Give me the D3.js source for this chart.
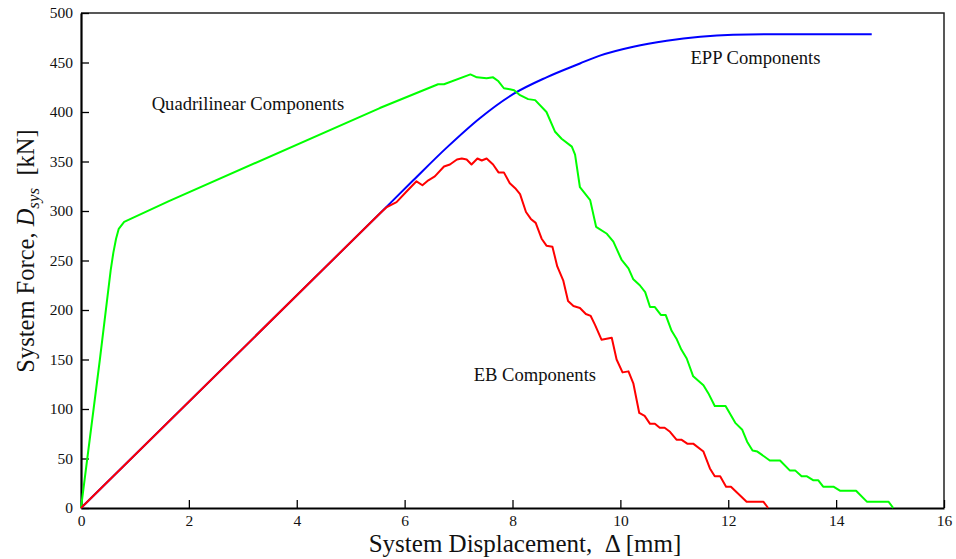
<!DOCTYPE html>
<html><head><meta charset="utf-8">
<script src="https://cdn.jsdelivr.net/npm/d3@7"></script>
<style>
html,body{margin:0;padding:0;background:#fff;}
svg{display:block;font-family:"Liberation Serif","Times New Roman",serif;}
.pre{white-space:pre;}
</style></head>
<body><svg id="c" width="956" height="559"></svg>
<script>
const xTicks = [0,2,4,6,8,10,12,14,16];
const yTicks = [0,50,100,150,200,250,300,350,400,450,500];

const quadX = [0,0.35,0.55,0.6,0.65,0.7,0.8,1.0,1.63,5.54,6.62,6.73,7.22,7.34,7.52,7.64,7.74,7.84,7.95,8.03,8.14,8.29,8.42,8.63,8.79,8.91,9.1,9.16,9.25,9.44,9.55,9.75,9.87,10.02,10.15,10.24,10.36,10.46,10.55,10.64,10.75,10.84,10.95,11.04,11.13,11.23,11.35,11.54,11.63,11.75,11.95,12.13,12.26,12.35,12.45,12.54,12.77,12.96,13.14,13.24,13.36,13.46,13.58,13.67,13.76,13.95,14.07,14.37,14.57,14.97,15.06];
const quadY = [0,150,240,258,272,282,289,294,310,404,428,428,438,435,434,435,431,424,423,422,417,413,412,400,380,373,365,357,324,311,284,277,269,251,242,231,225,218,203,203,195,195,179,171,160,151,133,124,116,103,103,86,79,67,58,57,48,48,38,38,32,32,28,28,21.5,21.5,17.5,17.5,6.4,6.4,0];

const ebX = [0,5.55,5.67,5.85,6.04,6.22,6.33,6.44,6.56,6.73,6.84,6.97,7.06,7.15,7.24,7.35,7.43,7.52,7.64,7.74,7.84,7.95,8.05,8.14,8.25,8.34,8.43,8.54,8.63,8.74,8.83,8.94,9.03,9.13,9.25,9.36,9.45,9.53,9.65,9.84,9.93,10.04,10.15,10.24,10.35,10.45,10.55,10.64,10.73,10.82,10.92,11.04,11.13,11.24,11.35,11.54,11.66,11.75,11.85,11.96,12.05,12.34,12.65,12.74];
const ebY = [0,298,304,309,320,330,326,331,335,345,347,352,353,352,347,353,351,353,347,339,339,328,323,317,299,292,288,272,265,264,244,230,209,204,202,196,194,185,170,172,150,137,138,126,96,93,85,85,81,81,77,69,69,65,65,57,40,32,32,21.5,21.5,6.4,6.4,0];

const eppX = [0,5.55,6.16,6.78,7.40,8.01,8.63,9.25,9.62,10.24,10.86,11.48,12.09,12.71,14.66];
const eppY = [0,298,331,364,394,418,435,449,457,466,472,476,478,478.5,478.5];

const annText = ["Quadrilinear Components","EPP Components","EB Components"];
const annX = [1.31,11.3,7.28];
const annY = [402,448,128];

const svg = d3.select("#c");
const L=81, R=944, T=13, B=508;
const x = d3.scaleLinear().domain([0,16]).range([L,R]);
const y = d3.scaleLinear().domain([0,500]).range([B,T]);

svg.append("path").attr("d",`M${L},${T}H${R}V${B}`).attr("fill","none").attr("stroke","#222").attr("stroke-width",1.5);

const xa = svg.append("g").attr("transform",`translate(0,${B})`)
  .call(d3.axisBottom(x).tickValues(xTicks).tickSizeInner(-8).tickSizeOuter(0).tickPadding(7).tickFormat(d3.format("d")));
const ya = svg.append("g").attr("transform",`translate(${L},0)`)
  .call(d3.axisLeft(y).tickValues(yTicks).tickSizeInner(-8).tickSizeOuter(0).tickPadding(8).tickFormat(d3.format("d")));
[xa,ya].forEach(a=>{
  a.attr("font-family",null).attr("font-size",15.5);
  a.select(".domain").attr("stroke","#000").attr("stroke-width",2.2);
  a.selectAll(".tick line").attr("stroke","#000").attr("stroke-width",1.3);
  a.selectAll(".tick text").attr("fill","#111");
});

const line = d3.line().x(d=>x(d[0])).y(d=>y(d[1]));
const lineS = d3.line().x(d=>x(d[0])).y(d=>y(d[1])).curve(d3.curveMonotoneX);
const zip=(a,b)=>a.map((v,i)=>[v,b[i]]);

svg.append("path").datum(zip(eppX,eppY)).attr("d",lineS).attr("fill","none").attr("stroke","#0000ff").attr("stroke-width",2);
svg.append("path").datum(zip(quadX,quadY)).attr("d",line).attr("fill","none").attr("stroke","#00ff00").attr("stroke-width",2).attr("stroke-linejoin","round");
svg.append("path").datum(zip(ebX,ebY)).attr("d",line).attr("fill","none").attr("stroke","#ff0000").attr("stroke-width",2).attr("stroke-linejoin","round");

svg.selectAll(".ann").data(annText).enter().append("text").attr("class","ann")
  .attr("x",(d,i)=>x(annX[i])).attr("y",(d,i)=>y(annY[i])).attr("font-size",18.6).attr("fill","#111").text(d=>d);

svg.append("text").attr("class","pre").attr("x",525).attr("y",552).attr("text-anchor","middle").attr("font-size",25).attr("fill","#111")
  .text("System Displacement,  \u0394 [mm]");
const yt = svg.append("text").attr("class","pre").attr("transform","translate(34,251) rotate(-90)").attr("text-anchor","middle").attr("font-size",24.5).attr("fill","#111");
yt.append("tspan").text("System Force, ");
yt.append("tspan").attr("font-style","italic").text("D");
yt.append("tspan").attr("font-style","italic").attr("font-size",17).attr("dy",5).text("sys");
yt.append("tspan").attr("dy",-5).text("  [kN]");
</script></body></html>
